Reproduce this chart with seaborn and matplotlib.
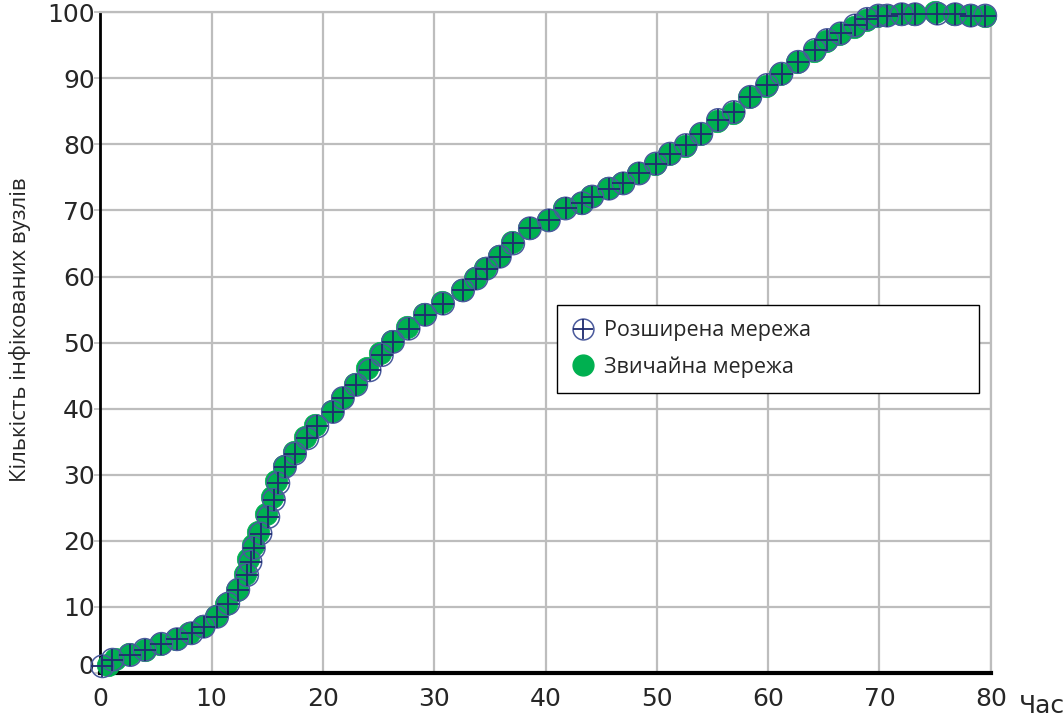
import matplotlib
matplotlib.use("Agg")
import matplotlib.pyplot as plt
import matplotlib.transforms as mtransforms
from matplotlib.lines import Line2D
from matplotlib.legend_handler import HandlerTuple
import seaborn as sns
import pandas as pd

# ---- data ----
ext_time = [0.2, 1.1, 2.7, 4.0, 5.5, 6.9, 8.2, 9.3, 10.5, 11.5,
            12.4, 13.2, 13.5, 13.8, 14.4, 15.1, 15.6, 16.0, 16.6, 17.5,
            18.6, 19.5, 20.9, 21.8, 23.0, 24.2, 25.3, 26.3, 27.7, 29.2,
            30.8, 32.6, 33.8, 34.7, 35.9, 37.1, 38.6, 40.3, 41.8, 43.3,
            44.2, 45.7, 47.0, 48.4, 49.9, 51.2, 52.6, 54.0, 55.5, 56.9,
            58.4, 59.9, 61.2, 62.7, 64.2, 65.3, 66.5, 67.8, 68.9, 69.9,
            70.7, 72.0, 73.2, 75.2, 76.8, 78.2, 79.5]
ext_nodes = [1.0, 2.0, 2.7, 3.5, 4.4, 5.1, 6.0, 7.0, 8.5, 10.5,
             12.6, 14.8, 16.8, 18.9, 21.1, 23.6, 26.2, 28.7, 31.2, 33.2,
             35.5, 37.3, 39.5, 41.6, 43.6, 45.8, 48.1, 50.1, 52.1, 54.2,
             55.9, 57.9, 59.7, 61.2, 63.0, 65.0, 67.3, 68.5, 70.3, 71.1,
             72.1, 73.3, 74.1, 75.6, 77.1, 78.6, 79.9, 81.6, 83.7, 84.9,
             87.2, 89.0, 90.7, 92.5, 94.3, 95.8, 96.8, 98.0, 99.0, 99.5,
             99.5, 99.7, 99.7, 99.8, 99.7, 99.5, 99.5]

reg_time = [0.7, 1.3, 2.6, 4.0, 5.4, 6.8, 8.0, 9.2, 10.4, 11.3,
            12.3, 13.0, 13.3, 13.7, 14.2, 14.9, 15.4, 15.8, 16.5, 17.4,
            18.4, 19.3, 20.8, 21.7, 22.9, 24.0, 25.1, 26.2, 27.6, 29.1,
            30.7, 32.5, 33.7, 34.6, 35.8, 37.0, 38.5, 40.2, 41.7, 43.2,
            44.1, 45.6, 46.9, 48.3, 49.8, 51.1, 52.5, 53.9, 55.4, 56.8,
            58.3, 59.8, 61.1, 62.6, 64.1, 65.2, 66.4, 67.7, 68.8, 69.8,
            70.6, 71.9, 73.1, 75.0, 76.7, 78.1, 79.5]
reg_nodes = [1.2, 2.1, 2.8, 3.5, 4.3, 5.1, 6.0, 7.1, 8.6, 10.4,
             12.6, 15.0, 17.2, 19.3, 21.4, 24.0, 26.6, 29.0, 31.3, 33.5,
             35.7, 37.5, 39.6, 41.6, 43.8, 46.2, 48.4, 50.3, 52.3, 54.3,
             56.1, 58.0, 59.8, 61.3, 63.1, 65.2, 67.4, 68.6, 70.3, 71.2,
             72.2, 73.4, 74.2, 75.6, 77.0, 78.5, 79.8, 81.5, 83.5, 84.8,
             87.1, 88.9, 90.6, 92.4, 94.1, 95.6, 96.7, 97.8, 98.8, 99.4,
             99.6, 99.7, 99.8, 100.0, 99.7, 99.6, 99.5]

label_ext = "Розширена мережа"
label_reg = "Звичайна мережа"
x_label = "Час"
y_label = "Кількість інфікованих вузлів"
x_ticks = [0, 10, 20, 30, 40, 50, 60, 70, 80]
y_ticks = [0, 10, 20, 30, 40, 50, 60, 70, 80, 90, 100]

# ---- styling ----
sns.set_theme(style="white")
plt.rcParams["font.family"] = ["Open Sans", "DejaVu Sans"]

GREEN = "#00B050"
BLUE_EDGE = "#4A5A9C"
NAVY = "#1F2B6E"
GRID = "#BDBDBD"

fig = plt.figure(figsize=(10.64, 7.22), dpi=100)
ax = fig.add_axes([0.0942, 0.068, 0.837, 0.915])

df_ext = pd.DataFrame({"t": ext_time, "v": ext_nodes})
df_reg = pd.DataFrame({"t": reg_time, "v": reg_nodes})

S = 260
sns.scatterplot(data=df_reg, x="t", y="v", ax=ax, marker="o", s=S,
                color=GREEN, edgecolor=GREEN, linewidth=0.5, zorder=3,
                clip_on=False)
sns.scatterplot(data=df_ext, x="t", y="v", ax=ax, marker="o", s=S,
                color="none", edgecolor=BLUE_EDGE, linewidth=1.1, zorder=4,
                clip_on=False)
sns.scatterplot(data=df_ext, x="t", y="v", ax=ax, marker="+", s=S,
                color=NAVY, linewidth=1.3, zorder=5, clip_on=False)

ax.set_xlim(0, 80)
ax.set_ylim(0, 100)
ax.set_xticks(x_ticks)
ax.set_yticks(y_ticks)
ax.grid(True, color=GRID, linewidth=1.6)
ax.set_axisbelow(True)

for side in ("top", "right"):
    ax.spines[side].set_color(GRID)
    ax.spines[side].set_linewidth(1.6)
ax.spines["left"].set_color("black")
ax.spines["left"].set_linewidth(2.0)
ax.spines["bottom"].set_color("black")
ax.spines["bottom"].set_linewidth(3.0)
for sp in ax.spines.values():
    sp.set_zorder(2)

ax.tick_params(axis="y", length=4, width=1.2, color=GRID, pad=0, left=True)
ax.tick_params(axis="x", length=0, pad=10)
for lab in ax.get_yticklabels():
    lab.set_fontfamily("DejaVu Sans")
    lab.set_fontsize(18)
for lab in ax.get_xticklabels():
    lab.set_fontfamily(["Liberation Sans Narrow", "DejaVu Sans"])
    lab.set_fontsize(18)
# the "0" label on the y axis sits slightly raised in the reference
ylabs = ax.get_yticklabels()
ylabs[0].set_transform(ylabs[0].get_transform() +
                       mtransforms.ScaledTranslation(0, 6 / 72, fig.dpi_scale_trans))

ax.set_xlabel("")
ax.set_ylabel(y_label, fontsize=16, labelpad=8)
ax.yaxis.set_label_coords(-0.078, 0.52)
fig.text(0.958, 0.022, x_label, fontsize=18, ha="left", va="center",
         family=["Liberation Sans Narrow", "DejaVu Sans"])

h_ext = (Line2D([], [], marker="o", ls="", mfc="none", mec=BLUE_EDGE, mew=1.1, ms=15),
         Line2D([], [], marker="+", ls="", mec=NAVY, mew=1.3, ms=15))
h_reg = Line2D([], [], marker="o", ls="", mfc=GREEN, mec=GREEN, ms=15)
leg = ax.legend([h_ext, h_reg], [label_ext, label_reg],
                handler_map={tuple: HandlerTuple(ndivide=1)},
                loc="lower left", bbox_to_anchor=(0.513, 0.424, 0.474, 0.134),
                mode="expand", frameon=True, fancybox=False, edgecolor="black",
                framealpha=1, fontsize=15.5, handlelength=1.0, handletextpad=0.5,
                labelspacing=0.7, borderpad=0.7, borderaxespad=0)
leg.get_frame().set_linewidth(1.0)
leg.set_zorder(10)

fig.savefig("out.png", dpi=100)
